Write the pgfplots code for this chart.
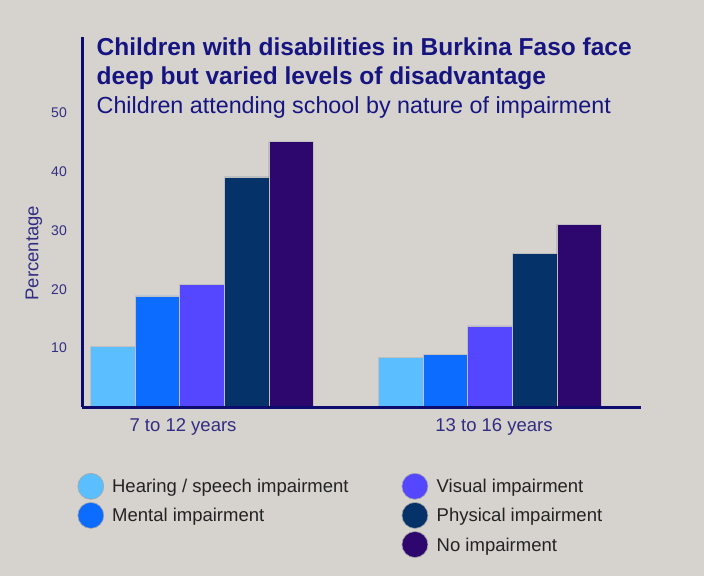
\documentclass[border=0pt]{standalone}
\usepackage{fontspec}
\setmainfont{Liberation Sans}
\usepackage{pgfplots}
\pgfplotsset{compat=1.18}
\definecolor{bg}{RGB}{214,211,206}
\definecolor{navy}{RGB}{12,12,110}
\definecolor{titlecol}{RGB}{22,20,128}
\definecolor{ticklab}{RGB}{50,45,130}
\definecolor{c1}{RGB}{90,190,255}
\definecolor{c2}{RGB}{12,108,255}
\definecolor{c3}{RGB}{85,70,255}
\definecolor{c4}{RGB}{6,50,106}
\definecolor{c5}{RGB}{45,6,110}
\definecolor{legtext}{RGB}{35,35,35}
\pgfplotsset{legcirc/.style={legend image code/.code={\filldraw[fill=#1, draw=black!35, line width=0.6pt] (13pt,0.6pt) circle (13pt);}}}
\begin{document}
\begin{tikzpicture}
\fill[bg] (0pt,0pt) rectangle (704pt,576pt);
\begin{axis}[
 at={(82pt,169pt)}, anchor=south west,
 scale only axis, width=558.7pt, height=370pt,
 xmin=-0.4167, xmax=1.5233, ymin=0, ymax=62.9,
 enlargelimits=false, clip=false,
 axis x line*=bottom, axis y line*=left,
 axis line style={-, line width=3pt, draw=navy},
 axis on top=true,
 ytick={10,20,30,40,50},
 xtick={-0.066,1.014}, xticklabels={7 to 12 years, 13 to 16 years},
 major tick length=0pt,
 /pgf/number format/assume math mode=true,
 yticklabel style={font=\fontsize{14}{16}\selectfont, color=ticklab, inner sep=0pt, anchor=east, xshift=-15pt},
 xticklabel style={font=\fontsize{18.5}{22}\selectfont, color=ticklab, inner sep=0pt, anchor=base, yshift=-24.7pt},
 ylabel={Percentage},
 ylabel style={at={(axis description cs:-0.086,0.416)}, anchor=center, font=\fontsize{18.5}{22}\selectfont, color=ticklab},
 ybar, bar width=44.6pt,
 legend columns=2,
 legend cell align=left,
 legend style={at={(axis description cs:-0.008,-0.1784)}, anchor=north west, draw=none, fill=none, inner sep=0pt, outer sep=0pt, row sep=2.5pt, font=\fontsize{18.5}{22}\selectfont, text=legtext, nodes={inner sep=0pt}, /tikz/column 1/.style={column sep=8pt}, /tikz/column 2/.style={column sep=53pt}, /tikz/column 3/.style={column sep=8.5pt}},
]
\addplot[forget plot, ybar, bar shift=-89.2pt, fill=c1, draw=black!25, line width=0.5pt] coordinates {(0,10.3) (1,8.5)};
\addplot[forget plot, ybar, bar shift=-44.6pt, fill=c2, draw=black!25, line width=0.5pt] coordinates {(0,18.9) (1,8.9)};
\addplot[forget plot, ybar, bar shift=0pt, fill=c3, draw=black!25, line width=0.5pt] coordinates {(0,20.9) (1,13.8)};
\addplot[forget plot, ybar, bar shift=44.6pt, fill=c4, draw=black!25, line width=0.5pt] coordinates {(0,39.1) (1,26.1)};
\addplot[forget plot, ybar, bar shift=89.2pt, fill=c5, draw=black!25, line width=0.5pt] coordinates {(0,45.1) (1,31.1)};
\addlegendimage{legcirc=c1}\addlegendentry{Hearing / speech impairment}
\addlegendimage{legcirc=c3}\addlegendentry{Visual impairment}
\addlegendimage{legcirc=c2}\addlegendentry{Mental impairment}
\addlegendimage{legcirc=c4}\addlegendentry{Physical impairment}
\addlegendimage{legend image code/.code={}}\addlegendentry{}
\addlegendimage{legcirc=c5}\addlegendentry{No impairment}
\end{axis}
\node[anchor=base west, inner sep=0pt, font=\bfseries\fontsize{24.5}{28}\selectfont, text=titlecol] at (96.5pt,520pt) {Children with disabilities in Burkina Faso face};
\node[anchor=base west, inner sep=0pt, font=\bfseries\fontsize{24.5}{28}\selectfont, text=titlecol] at (96.5pt,491pt) {deep but varied levels of disadvantage};
\node[anchor=base west, inner sep=0pt, font=\fontsize{23.3}{28}\selectfont, text=titlecol] at (96.5pt,462.7pt) {Children attending school by nature of impairment};
\end{tikzpicture}
\end{document}
